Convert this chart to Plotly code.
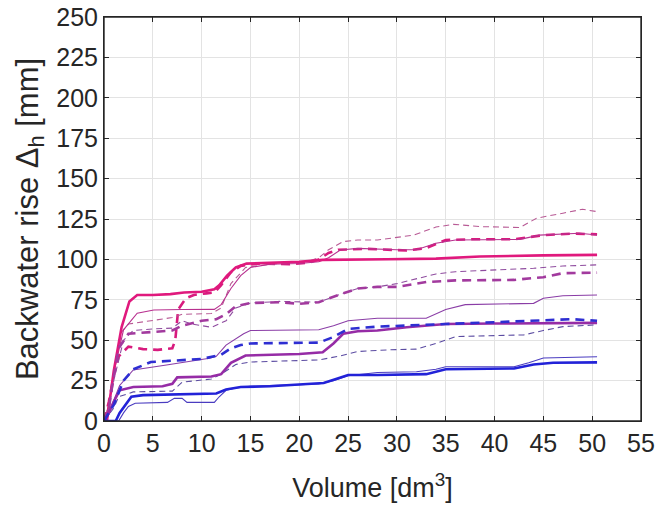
import plotly.graph_objects as go

# ---- data (Volume [dm3] vs backwater rise [mm]) ----
a_x = [0, 0.3, 1.0, 1.8, 2.6, 3.4, 5, 6.8, 8.2, 10, 11.3, 11.8, 12.6, 13.5, 14.6, 17, 20, 22.4, 25, 29, 34, 38.5, 45, 50.5]
a_y = [0, 0, 31, 58, 74, 78, 78, 78.5, 79.5, 80, 81.5, 84, 90, 95, 97.4, 98, 98.5, 99.7, 100, 100.1, 100.5, 101.8, 102.5, 102.8]

b_x = [0, 0.5, 1, 2, 3.4, 5.1, 8, 11.3, 12, 13, 14, 15, 17, 20, 22, 23, 24.2, 26, 30, 32, 34, 36, 42.6, 44.6, 48.7, 50.5]
b_y = [0, 10, 30, 56.4, 66.7, 68.7, 69, 69.1, 72, 82, 90, 95, 97, 97.5, 98.5, 101, 105.8, 106.8, 106, 106, 110, 112, 112.4, 115, 116.2, 115.1]

c_x = [0, 0.5, 1, 1.5, 2.5, 4, 5.5, 7, 7.3, 7.6, 8.4, 9.2, 10.5, 11.3, 12, 13, 14, 16, 19, 21, 22, 23, 24, 27, 31, 33, 35, 38, 42, 45, 48, 50.5]
c_y = [0, 12, 28, 40, 46, 44.5, 44, 45, 50, 69, 76, 78, 79, 79.5, 84, 92, 96, 97.5, 97, 98, 100, 104, 106, 106.5, 105.5, 107, 112, 112.5, 112.5, 115, 116, 115.5]

d_x = [0, 0.5, 1, 1.8, 2.5, 5, 7, 8, 11, 12, 13, 14.5, 17, 21, 22, 23, 24.5, 26, 28, 31.7, 34, 35.8, 38.5, 42.6, 44.3, 47, 49, 50.5]
d_y = [0, 10, 30, 55, 60, 62, 64, 66, 66.5, 70, 85, 95, 97, 99, 101, 106, 111, 112, 112, 115, 120, 121.7, 120.3, 119.7, 125.5, 128.6, 131, 129.6]

e_x = [0, 0.5, 1, 2, 3, 5, 7, 8, 9, 11, 12.5, 13.5, 15, 18, 22, 24, 26, 28, 30, 32, 34, 36, 40, 44, 47, 50.5]
e_y = [0, 8, 25, 50, 56, 57, 57.5, 62, 60, 58, 62, 70, 73, 74, 73.5, 78, 82, 83, 85, 88, 91, 92.4, 93.4, 94.5, 95.9, 96.6]

f_x = [0, 0.5, 0.8, 1.5, 2.5, 5, 7, 8, 10, 11.5, 12.5, 13.5, 15, 18, 20, 22, 24, 26, 28, 30, 33, 36, 42, 45, 47, 50.5]
f_y = [0, 8, 20, 45, 54, 55, 56, 59, 62, 63, 66, 71, 73, 73.5, 72.5, 73.5, 78, 82, 83, 83, 86, 87, 87.3, 89, 91.5, 91.8]

g_x = [0, 0.7, 1.6, 3, 6.4, 10.8, 11.5, 12.5, 14.3, 15, 22, 23.5, 25, 28, 33, 35, 37, 44, 45, 47, 50.5]
g_y = [0, 8, 22, 31.6, 34.7, 38.8, 40, 47, 54, 56, 56.5, 59, 62, 63.6, 63.6, 69, 72, 72.8, 76, 77.5, 78]

h_x = [0, 0.5, 1, 1.6, 3, 6, 7, 7.5, 11, 12, 13, 14.5, 20, 22.4, 23.5, 24.5, 26, 28, 31, 35, 40, 45, 50.5]
h_y = [0, 5, 12, 19, 21, 21.5, 23, 27, 27.5, 29, 36, 40.5, 41.5, 42.5, 48, 54, 55.5, 56, 58, 60, 60.3, 60.5, 60.7]

i_x = [0, 1, 2, 3, 4.8, 7.5, 10, 12, 13, 14, 15, 22, 23.5, 25, 28, 35, 40, 45, 48, 50.5]
i_y = [0, 10, 25, 32, 36.5, 37.7, 38.4, 41, 45, 47, 48, 48.5, 52, 57, 58.4, 60, 61, 62, 63, 62]

j_x = [0, 1, 1.5, 3, 7, 8, 11, 12, 13.5, 15, 22, 24, 26, 29, 32, 34, 36, 43, 45, 47, 50.5]
j_y = [0, 8, 15, 18, 18.5, 24, 26, 29, 35, 36.5, 37.8, 40, 43, 44, 44.5, 48, 52.2, 53.3, 56, 58.4, 59.5]

k_x = [0, 1.5, 2, 2.5, 3.2, 6.5, 7.2, 8, 8.5, 11.3, 11.8, 12.5, 13.5, 15, 20, 22, 23.5, 25, 28, 32, 34, 35, 42, 43.5, 45, 50.5]
k_y = [0, 0, 5, 9, 11, 11.5, 14, 14, 11.5, 11.5, 15, 19, 20.5, 21.5, 22.5, 23, 25, 28, 30, 30.5, 32, 33.6, 33.6, 36, 39, 39.8]

l_x = [0, 1.2, 1.6, 2.2, 2.8, 4, 8, 11.5, 12.5, 14, 17, 20, 22.5, 24, 25, 28, 33, 35, 42, 44, 46, 50.5]
l_y = [0, 0, 5, 10, 15, 16, 16.5, 17, 19.5, 21, 21.5, 22.5, 23.5, 26.5, 28.5, 28.5, 29, 32, 32.5, 35, 36, 36.3]

x_ticks = [0, 5, 10, 15, 20, 25, 30, 35, 40, 45, 50, 55]
y_ticks = [0, 25, 50, 75, 100, 125, 150, 175, 200, 225, 250]

# ---- styles ----
THICK, THIN = 2.6, 1.1
DASH_THICK, DASH_THIN = "9px,6px", "6px,4px"
series = [
    (c_x, c_y, "#D81B7E", THICK, DASH_THICK),
    (d_x, d_y, "#B85A95", THIN, DASH_THIN),
    (b_x, b_y, "#B8308F", THIN, "solid"),
    (a_x, a_y, "#E0197D", THICK, "solid"),
    (e_x, e_y, "#8F4C9F", THIN, DASH_THIN),
    (f_x, f_y, "#A23A9E", THICK, DASH_THICK),
    (g_x, g_y, "#8A3DA6", THIN, "solid"),
    (j_x, j_y, "#5C4CA2", THIN, DASH_THIN),
    (h_x, h_y, "#962CA6", THICK, "solid"),
    (i_x, i_y, "#2E2ED2", THICK, DASH_THICK),
    (k_x, k_y, "#4A3CC0", THIN, "solid"),
    (l_x, l_y, "#2222D8", THICK, "solid"),
]

fig = go.Figure()
for xs, ys, col, w, dash in series:
    fig.add_trace(go.Scatter(x=xs, y=ys, mode="lines",
                             line=dict(color=col, width=w, dash=dash),
                             showlegend=False, hoverinfo="skip"))

FONT = "Liberation Sans, Arial, sans-serif"
axis_common = dict(
    showgrid=True, gridcolor="#E3E3E3", gridwidth=1,
    showline=True, linecolor="#262626", linewidth=1, mirror="ticks",
    ticks="inside", ticklen=5, tickcolor="#262626",
    zeroline=False, automargin=False,
    tickfont=dict(family=FONT, size=25, color="#262626"),
)
fig.update_xaxes(range=[0, 55], tickvals=x_ticks, ticktext=[str(v) for v in x_ticks],
                 title=dict(text="Volume [dm<sup>3</sup>]", font=dict(family=FONT, size=27, color="#262626"),
                            standoff=22),
                 **axis_common)
fig.update_yaxes(range=[0, 250], tickvals=y_ticks, ticktext=[str(v) for v in y_ticks],
                 title=dict(text="Backwater rise \u0394<sub>h</sub> [mm]",
                            font=dict(family=FONT, size=31, color="#262626"), standoff=8),
                 **axis_common)
# box frame around the plotting area
fig.add_shape(type="rect", xref="paper", yref="paper", x0=0, x1=1, y0=0, y1=1,
              line=dict(color="#262626", width=1.4), fillcolor="rgba(0,0,0,0)", layer="above")
fig.update_layout(width=656, height=511, margin=dict(l=104, r=15, t=17, b=90),
                  paper_bgcolor="white", plot_bgcolor="white")
# remove the default page margin so the figure sits at the window's top-left corner
fig.write_html("out.html", config={"displayModeBar": False},
               post_script="document.body.style.margin='0';document.body.style.overflow='hidden';")
